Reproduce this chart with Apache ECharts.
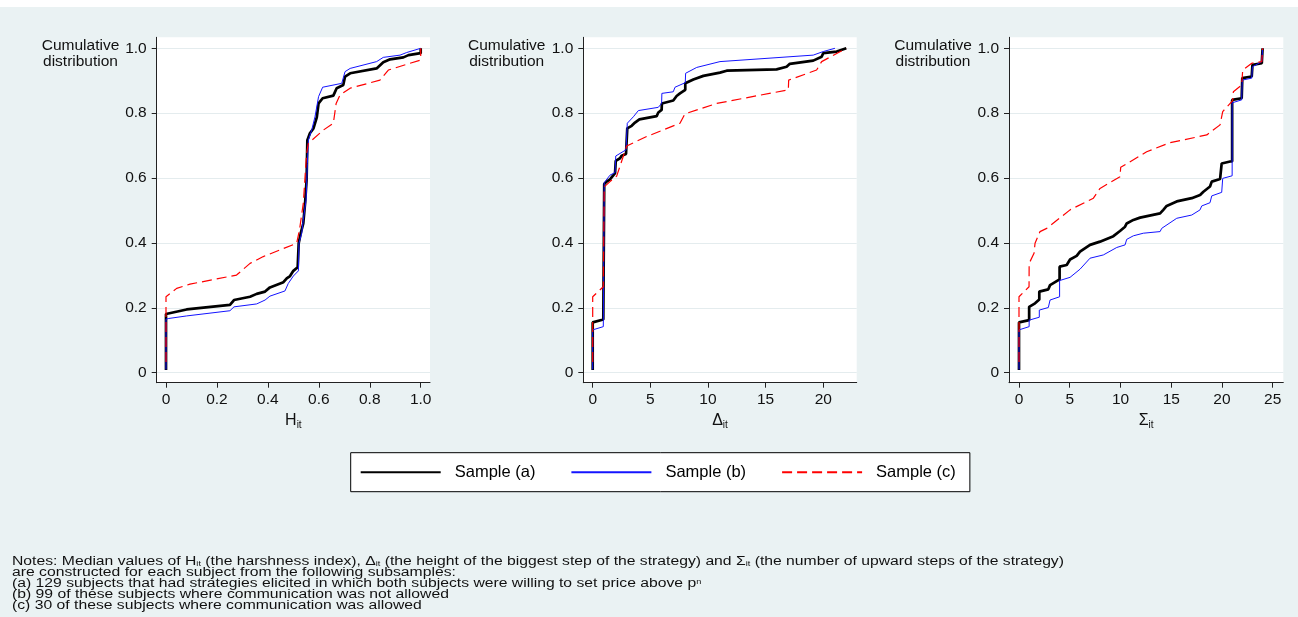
<!DOCTYPE html>
<html><head><meta charset="utf-8">
<script src="https://cdn.jsdelivr.net/npm/echarts@6/dist/echarts.min.js"></script>
<style>html,body{margin:0;padding:0;background:#eaf2f3}#c{width:1298px;height:617px}</style>
</head><body><div id="c"></div>
<script>
// ---- tick labels ----
const yTicks = [0, 0.2, 0.4, 0.6, 0.8, 1.0];
const hTicks = [0, 0.2, 0.4, 0.6, 0.8, 1.0];
const dTicks = [0, 5, 10, 15, 20];
const sTicks = [0, 5, 10, 15, 20, 25];
const seriesNames = ['Sample (a)', 'Sample (b)', 'Sample (c)'];

// ---- H_it panel ----
const hA = [[0,0.008],[0,0.181],[0.081,0.195],[0.251,0.209],[0.267,0.224],[0.33,0.234],[0.356,0.243],[0.389,0.25],[0.408,0.263],[0.461,0.279],[0.474,0.291],[0.487,0.298],[0.5,0.314],[0.517,0.325],[0.521,0.325],[0.521,0.399],[0.529,0.43],[0.539,0.46],[0.546,0.522],[0.552,0.594],[0.555,0.717],[0.565,0.738],[0.579,0.753],[0.592,0.787],[0.599,0.83],[0.615,0.846],[0.657,0.854],[0.670,0.877],[0.696,0.887],[0.703,0.913],[0.723,0.923],[0.827,0.938],[0.853,0.957],[0.880,0.966],[0.932,0.972],[0.952,0.979],[1.0,0.985],[1.0,1.0]];
const hB = [[0,0.010],[0,0.165],[0.009,0.167],[0.081,0.175],[0.251,0.191],[0.267,0.203],[0.356,0.212],[0.389,0.224],[0.408,0.236],[0.467,0.252],[0.48,0.275],[0.5,0.298],[0.52,0.314],[0.522,0.314],[0.522,0.399],[0.533,0.43],[0.539,0.471],[0.55,0.532],[0.555,0.645],[0.559,0.717],[0.572,0.748],[0.585,0.789],[0.599,0.851],[0.615,0.88],[0.69,0.892],[0.703,0.928],[0.723,0.938],[0.827,0.959],[0.853,0.972],[0.919,0.979],[0.945,0.987],[1.0,1.0]];
const hC = [[0,0.033],[0,0.234],[0.042,0.26],[0.094,0.273],[0.277,0.301],[0.33,0.337],[0.382,0.358],[0.513,0.399],[0.524,0.44],[0.539,0.522],[0.552,0.676],[0.559,0.707],[0.618,0.748],[0.657,0.769],[0.668,0.83],[0.683,0.856],[0.723,0.877],[0.84,0.902],[0.873,0.933],[1.0,0.964],[1.0,1.0]];

// ---- Delta_it panel ----
const dA = [[0,0.008],[0,0.155],[0.92,0.164],[1,0.164],[1,0.582],[1.21,0.589],[1.5,0.596],[1.94,0.615],[2,0.615],[2,0.653],[2.37,0.661],[2.51,0.669],[2.89,0.674],[3,0.674],[3,0.753],[3.38,0.761],[3.67,0.771],[4.05,0.781],[5.55,0.791],[5.69,0.802],[5.98,0.81],[6,0.81],[6,0.83],[6.99,0.839],[7.28,0.853],[7.57,0.861],[7.72,0.866],[8.03,0.872],[8.03,0.892],[8.73,0.904],[9.6,0.915],[11.04,0.925],[11.62,0.931],[15.95,0.935],[16.82,0.943],[17.1,0.952],[19.13,0.962],[19.86,0.974],[20.0,0.985],[21.16,0.99],[22,1.0]];
const dB = [[0,0.010],[0,0.132],[0.92,0.142],[1,0.142],[1,0.586],[1.5,0.609],[1.94,0.617],[2,0.617],[2,0.668],[2.89,0.687],[3,0.687],[3,0.769],[3.53,0.789],[3.96,0.808],[5.69,0.818],[5.98,0.83],[6,0.83],[6,0.861],[6.99,0.866],[7.14,0.88],[8.03,0.894],[8.06,0.923],[9.02,0.941],[11.04,0.959],[19.13,0.979],[20,0.99],[21.01,1.0]];
const dC = [[0,0.033],[0,0.234],[0.92,0.265],[1,0.265],[1,0.573],[1.5,0.589],[2.08,0.606],[2.95,0.699],[4.68,0.728],[7.57,0.769],[8.0,0.798],[10.75,0.83],[16.97,0.872],[17,0.872],[17,0.902],[19.42,0.933],[19.86,0.959],[22,1.0]];

// ---- Sigma_it panel ----
const sA = [[0,0.008],[0,0.155],[1,0.162],[1,0.203],[1.58,0.214],[2,0.226],[2,0.25],[2.89,0.257],[3.06,0.27],[4,0.288],[4,0.327],[4.7,0.332],[5.03,0.349],[5.68,0.36],[6.01,0.373],[7.0,0.394],[7.98,0.404],[9.3,0.421],[9.95,0.437],[10.45,0.45],[10.61,0.46],[11.27,0.471],[11.93,0.478],[12.09,0.483],[13.9,0.491],[14.22,0.502],[14.55,0.514],[15.54,0.528],[17.02,0.538],[17.84,0.548],[18.17,0.558],[18.82,0.574],[18.99,0.589],[19.81,0.597],[19.97,0.645],[20.8,0.651],[21,0.651],[21,0.841],[21.94,0.846],[22,0.846],[22,0.908],[22.93,0.913],[23,0.913],[23,0.949],[23.92,0.954],[24,0.954],[24,1.0]];
const sB = [[0,0.010],[0,0.132],[1,0.142],[1,0.162],[2,0.171],[2,0.193],[2.89,0.201],[3.06,0.224],[4,0.234],[4,0.284],[5.03,0.294],[6.01,0.319],[7.0,0.353],[8.31,0.363],[9.63,0.386],[10.45,0.394],[10.61,0.411],[11.27,0.422],[12.25,0.43],[13.9,0.435],[14.06,0.445],[15.54,0.476],[17.02,0.486],[17.84,0.502],[18.0,0.514],[18.82,0.524],[18.99,0.545],[19.97,0.556],[20.07,0.599],[21,0.607],[21,0.832],[21.94,0.841],[22,0.841],[22,0.902],[22.93,0.908],[23,0.908],[23,0.943],[23.92,0.959],[24,0.959],[24,1.0]];
const sC = [[0,0.033],[0,0.234],[0.99,0.265],[1,0.337],[1.48,0.368],[1.58,0.399],[2.07,0.435],[2.73,0.445],[5.03,0.502],[7.33,0.538],[7.98,0.568],[9.95,0.604],[10.02,0.633],[12.58,0.681],[14.88,0.709],[18.5,0.733],[19.81,0.764],[20.07,0.805],[21.05,0.839],[21.12,0.866],[21.94,0.887],[22.04,0.933],[22.93,0.954],[23.92,0.959],[24,1.0]];

const F = '"Liberation Sans", Arial, Helvetica, sans-serif';
const AX = '#222';
const GRID = '#e4ecee';

const panels = [
  {left:156.7, width:273.3, xmin:-0.0365, xmax:1.0365, ticks:hTicks, name:'{m|H}{s|it}', data:[hA,hB,hC], fmt:v=>v===0?'0':v.toFixed(1), lx:80.5},
  {left:583.3, width:273.4, xmin:-0.815, xmax:22.9, ticks:dTicks, name:'{m|Δ}{s|it}', data:[dA,dB,dC], fmt:v=>String(v), lx:506.7},
  {left:1009, width:274.3, xmin:-0.985, xmax:26.04, ticks:sTicks, name:'{m|Σ}{s|it}', data:[sA,sB,sC], fmt:v=>String(v), lx:933}
];
const styles = [
  {color:'#000000', width:2.7, type:'solid', z:3},
  {color:'#1414ff', width:1, type:'solid', z:4},
  {color:'#ff0000', width:1.2, type:[10,5], z:5}
];

const grids=[], xAxes=[], yAxes=[], series=[], graphics=[];
panels.forEach((p,i)=>{
  grids.push({left:p.left, top:37.3, width:p.width, height:345.4, show:true, backgroundColor:'#ffffff', borderWidth:0, containLabel:false, outerBoundsMode:'none'});
  xAxes.push({type:'value', gridIndex:i, min:p.xmin, max:p.xmax,
    axisLine:{show:true, onZero:false, lineStyle:{color:AX, width:1}},
    axisTick:{show:true, length:5, customValues:p.ticks, lineStyle:{color:AX, width:1}},
    axisLabel:{customValues:p.ticks, formatter:p.fmt, fontSize:15.5, fontFamily:F, color:'#111', margin:9},
    splitLine:{show:false},
    name:p.name, nameLocation:'middle', nameGap:23,
    nameTextStyle:{rich:{m:{fontSize:16, fontFamily:F, color:'#111', lineHeight:20}, s:{fontSize:10, fontFamily:F, color:'#111', lineHeight:10, verticalAlign:'bottom'}}}
  });
  yAxes.push({type:'value', gridIndex:i, min:-0.0308, max:1.0339,
    axisLine:{show:true, onZero:false, lineStyle:{color:AX, width:1}},
    axisTick:{show:true, length:5, customValues:yTicks, lineStyle:{color:AX, width:1}},
    axisLabel:{customValues:yTicks, formatter:v=>v===0?'0':v.toFixed(1), fontSize:15.5, fontFamily:F, color:'#111', margin:10},
    splitLine:{show:true, lineStyle:{color:GRID, width:1}}
  });
  p.data.forEach((d,k)=>{
    series.push({type:'line', name:seriesNames[k], xAxisIndex:i, yAxisIndex:i, data:d,
      showSymbol:false, symbol:'none', z:styles[k].z, animation:false, clip:true,
      lineStyle:{color:styles[k].color, width:styles[k].width, type:styles[k].type},
      itemStyle:{color:styles[k].color}});
  });
  graphics.push({type:'text', x:p.lx, y:54, style:{text:'Cumulative\ndistribution', fontSize:15.5, fontFamily:F, fill:'#111', align:'center', verticalAlign:'middle', lineHeight:16}});
});

graphics.push({type:'rect', shape:{x:0, y:0, width:1298, height:7}, style:{fill:'#ffffff'}, z:0});
graphics.push({type:'text', x:12, y:556.5, scaleX:1.31, scaleY:1, style:{
  text:'Notes: Median values of H{s|it} (the harshness index), Δ{s|it} (the height of the biggest step of the strategy) and Σ{s|it} (the number of upward steps of the strategy)\n' +
       'are constructed for each subject from the following subsamples:\n' +
       '(a) 129 subjects that had strategies elicited in which both subjects were willing to set price above p{u|n}\n' +
       '(b) 99 of these subjects where communication was not allowed\n' +
       '(c) 30 of these subjects where communication was allowed',
  fontSize:12, fontFamily:F, fill:'#111', align:'left', verticalAlign:'top', lineHeight:10.9,
  rich:{s:{fontSize:7, fontFamily:F, fill:'#111', lineHeight:6, verticalAlign:'bottom'}, u:{fontSize:7, fontFamily:F, fill:'#111', lineHeight:6, verticalAlign:'top'}}
}});

const chart = echarts.init(document.getElementById('c'), null, {renderer:'canvas'});
chart.setOption({
  backgroundColor:'#eaf2f3',
  animation:false,
  grid:grids, xAxis:xAxes, yAxis:yAxes, series:series,
  legend:{data:seriesNames, left:350.7, top:452.7, orient:'horizontal', backgroundColor:'#ffffff', borderColor:'#000', borderWidth:1, borderRadius:0,
    padding:[11,14,11,9], itemWidth:80, itemHeight:17, itemGap:35,
    itemStyle:{opacity:0, borderWidth:0},
    textStyle:{fontSize:16.5, fontFamily:F, color:'#000', padding:[0,0,0,9]}},
  graphic:graphics
});
</script></body></html>
